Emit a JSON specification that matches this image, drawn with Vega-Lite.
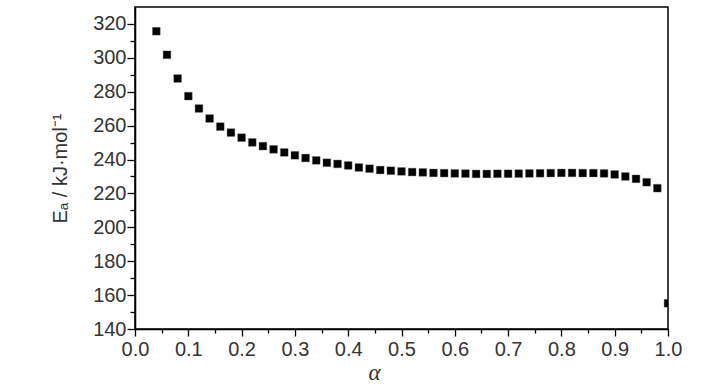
{
  "$schema": "https://vega.github.io/schema/vega-lite/v6.json",
  "width": 533,
  "height": 322,
  "autosize": {"type": "none"},
  "padding": {"left": 135, "top": 7, "right": 60, "bottom": 61},
  "background": "white",
  "config": {
    "view": {"stroke": "#000", "strokeWidth": 1.5},
    "axis": {
      "domainColor": "#000",
      "domainWidth": 1.5,
      "tickColor": "#000",
      "tickWidth": 1.3,
      "grid": false,
      "labelFont": "Liberation Sans",
      "labelFontSize": 20,
      "labelColor": "#333",
      "titleColor": "#333",
      "titleFontWeight": "normal"
    }
  },
  "data": {
    "values": [
      {"alpha": 0.04, "Ea": 315.7},
      {"alpha": 0.06, "Ea": 301.8},
      {"alpha": 0.08, "Ea": 287.8},
      {"alpha": 0.10, "Ea": 277.4},
      {"alpha": 0.12, "Ea": 270.1},
      {"alpha": 0.14, "Ea": 264.2},
      {"alpha": 0.16, "Ea": 259.4},
      {"alpha": 0.18, "Ea": 255.9},
      {"alpha": 0.20, "Ea": 252.9},
      {"alpha": 0.22, "Ea": 250.1},
      {"alpha": 0.24, "Ea": 247.9},
      {"alpha": 0.26, "Ea": 246.0},
      {"alpha": 0.28, "Ea": 244.2},
      {"alpha": 0.30, "Ea": 242.5},
      {"alpha": 0.32, "Ea": 240.9},
      {"alpha": 0.34, "Ea": 239.5},
      {"alpha": 0.36, "Ea": 238.1},
      {"alpha": 0.38, "Ea": 237.4},
      {"alpha": 0.40, "Ea": 236.5},
      {"alpha": 0.42, "Ea": 235.3},
      {"alpha": 0.44, "Ea": 234.6},
      {"alpha": 0.46, "Ea": 233.8},
      {"alpha": 0.48, "Ea": 233.4},
      {"alpha": 0.50, "Ea": 233.0},
      {"alpha": 0.52, "Ea": 232.6},
      {"alpha": 0.54, "Ea": 232.4},
      {"alpha": 0.56, "Ea": 232.1},
      {"alpha": 0.58, "Ea": 232.0},
      {"alpha": 0.60, "Ea": 231.8},
      {"alpha": 0.62, "Ea": 231.7},
      {"alpha": 0.64, "Ea": 231.5},
      {"alpha": 0.66, "Ea": 231.5},
      {"alpha": 0.68, "Ea": 231.6},
      {"alpha": 0.70, "Ea": 231.6},
      {"alpha": 0.72, "Ea": 231.7},
      {"alpha": 0.74, "Ea": 231.8},
      {"alpha": 0.76, "Ea": 231.9},
      {"alpha": 0.78, "Ea": 232.0},
      {"alpha": 0.80, "Ea": 232.1},
      {"alpha": 0.82, "Ea": 232.1},
      {"alpha": 0.84, "Ea": 232.0},
      {"alpha": 0.86, "Ea": 232.0},
      {"alpha": 0.88, "Ea": 231.8},
      {"alpha": 0.90, "Ea": 231.2},
      {"alpha": 0.92, "Ea": 230.0},
      {"alpha": 0.94, "Ea": 228.6},
      {"alpha": 0.96, "Ea": 226.6},
      {"alpha": 0.98, "Ea": 223.1},
      {"alpha": 1.00, "Ea": 155.2}
    ]
  },
  "mark": {"type": "point", "shape": "square", "filled": true, "color": "#000", "size": 60, "opacity": 1, "clip": true, "stroke": "#666", "strokeWidth": 0.4},
  "encoding": {
    "x": {
      "field": "alpha",
      "type": "quantitative",
      "scale": {"domain": [0, 1], "nice": false, "zero": false},
      "axis": {
        "title": "α",
        "titleFont": "Liberation Serif",
        "titleFontStyle": "italic",
        "titleFontSize": 23,
        "titlePadding": 2,
        "titleX": 239,
        "values": [0, 0.05, 0.1, 0.15, 0.2, 0.25, 0.3, 0.35, 0.4, 0.45, 0.5, 0.55, 0.6, 0.65, 0.7, 0.75, 0.8, 0.85, 0.9, 0.95, 1.0],
        "labelExpr": "abs(datum.value*10 - round(datum.value*10)) < 0.001 ? format(datum.value, '.1f') : ''",
        "tickSize": {"condition": {"test": "abs(datum.value*10 - round(datum.value*10)) < 0.001", "value": 7}, "value": 4},
        "labelPadding": 3,
        "labelFlush": false,
        "labelOverlap": false
      }
    },
    "y": {
      "field": "Ea",
      "type": "quantitative",
      "scale": {"domain": [140, 330], "nice": false, "zero": false},
      "axis": {
        "title": "Eₐ / kJ·mol⁻¹",
        "titleFont": "Liberation Sans",
        "titleFontSize": 20,
        "titlePadding": 22,
        "values": [140, 150, 160, 170, 180, 190, 200, 210, 220, 230, 240, 250, 260, 270, 280, 290, 300, 310, 320],
        "labelExpr": "datum.value % 20 === 0 ? datum.label : ''",
        "tickSize": {"condition": {"test": "datum.value % 20 === 0", "value": 8}, "value": 5},
        "labelPadding": 1,
        "labelFlush": false,
        "labelOverlap": false
      }
    }
  }
}
